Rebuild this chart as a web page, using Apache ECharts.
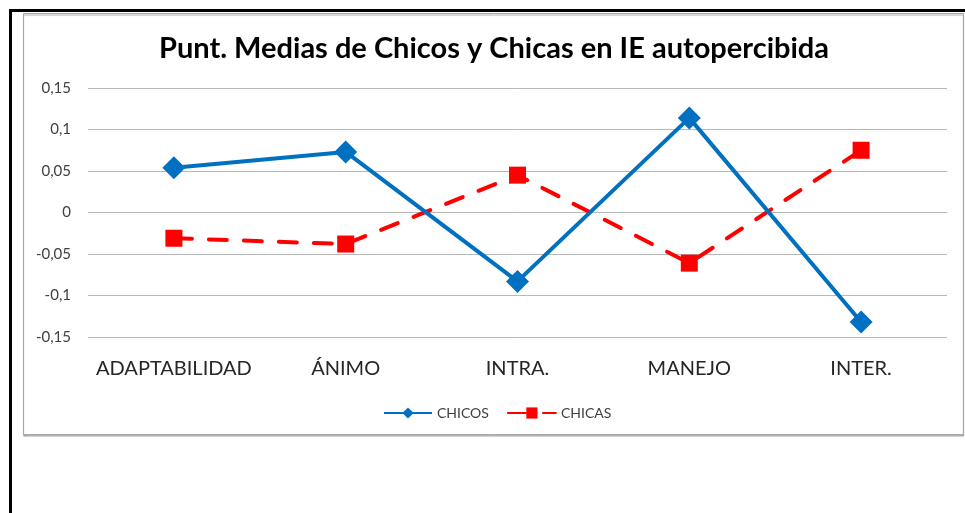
<!DOCTYPE html>
<html>
<head>
<meta charset="utf-8">
<script src="https://cdn.jsdelivr.net/npm/echarts@6/dist/echarts.min.js"></script>
<style>
  html, body { margin: 0; padding: 0; background: #fff; }
  #chart { width: 965px; height: 513px; }
</style>
</head>
<body>
<div id="chart"></div>
<script>
const categories = ['ADAPTABILIDAD', 'ÁNIMO', 'INTRA.', 'MANEJO', 'INTER.'];
const chicos = [0.054, 0.073, -0.083, 0.114, -0.132];
const chicas = [-0.031, -0.038, 0.045, -0.061, 0.075];
const yTicks = [-0.15, 0.15, 0.05]; // min, max, step

const fmt = v => String(Math.round(v * 100) / 100).replace('.', ',');

const chart = echarts.init(document.getElementById('chart'));
chart.setOption({
  animation: false,
  textStyle: { fontFamily: 'Lato' },
  title: {
    text: 'Punt. Medias de Chicos y Chicas en IE autopercibida',
    left: 154,
    top: 29,
    textStyle: { fontSize: 29, fontWeight: 'bold', color: '#000', fontFamily: 'Lato' }
  },
  graphic: [
    {
      type: 'rect',
      shape: { x: 10.5, y: 10.5, width: 1000, height: 600 },
      style: { fill: 'none', stroke: '#000', lineWidth: 3 },
      z: -10
    },
    {
      type: 'rect',
      shape: { x: 23.5, y: 13.5, width: 940, height: 421 },
      style: { fill: '#fff', stroke: '#a6a6a6', lineWidth: 1, shadowColor: 'rgba(0,0,0,0.35)', shadowOffsetY: 1.5, shadowBlur: 1 },
      z: -9
    }
  ],
  legend: {
    left: 378,
    top: 401,
    itemWidth: 48,
    itemHeight: 14,
    itemGap: 18,
    textStyle: { fontSize: 14, color: '#404040' },
    data: ['CHICOS', 'CHICAS']
  },
  grid: { left: 88, right: 18, top: 88, bottom: 176 },
  xAxis: {
    type: 'category',
    data: categories,
    boundaryGap: true,
    axisLine: { show: false },
    axisTick: { show: false },
    axisLabel: { interval: 0, fontSize: 20, color: '#262626', margin: 22 }
  },
  yAxis: {
    type: 'value',
    min: yTicks[0],
    max: yTicks[1],
    interval: yTicks[2],
    axisLine: { show: false },
    axisTick: { show: false },
    splitLine: { lineStyle: { color: '#b8b8b8', width: 1 } },
    axisLabel: { fontSize: 15, color: '#404040', margin: 17, formatter: fmt }
  },
  series: [
    {
      name: 'CHICOS',
      type: 'line',
      data: chicos,
      color: '#0070c0',
      symbol: 'diamond',
      symbolSize: 23,
      lineStyle: { width: 4, color: '#0070c0' },
      itemStyle: { color: '#0070c0' },
      z: 3
    },
    {
      name: 'CHICAS',
      type: 'line',
      data: chicas,
      color: '#ff0000',
      symbol: 'rect',
      symbolSize: 17,
      lineStyle: { width: 4, color: '#ff0000', type: [18, 17], cap: 'round' },
      itemStyle: { color: '#ff0000' },
      z: 2
    }
  ]
});
</script>
</body>
</html>
